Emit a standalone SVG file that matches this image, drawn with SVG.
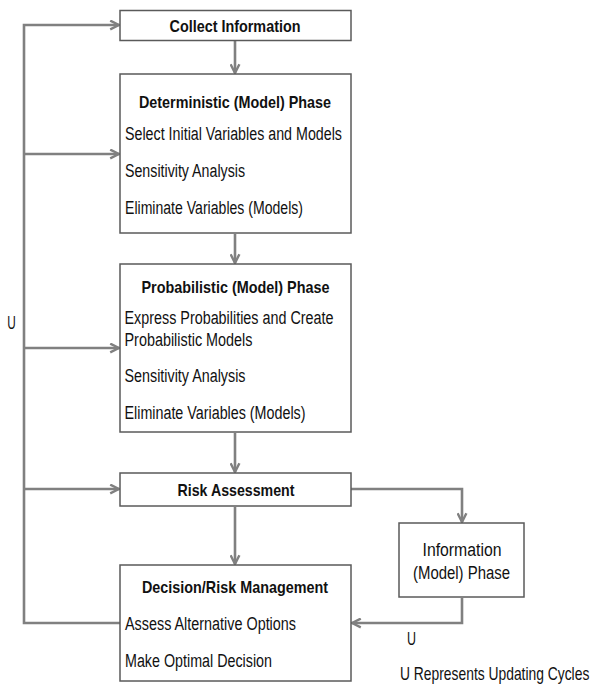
<svg xmlns="http://www.w3.org/2000/svg" width="596" height="688" viewBox="0 0 596 688">
<defs>
<style>
.box{fill:#ffffff;stroke:#5a5a5a;stroke-width:1.5}
.ln{fill:none;stroke:#808080;stroke-width:2.6}
.t{font-family:"Liberation Sans",Arial,sans-serif;font-size:18px;fill:#111}
.b{font-family:"Liberation Sans",Arial,sans-serif;font-size:17px;font-weight:bold;fill:#111;text-anchor:middle}
.c{text-anchor:middle}
</style>
<marker id="ah" viewBox="0 0 10 10" refX="9" refY="5" markerWidth="11" markerHeight="11" markerUnits="userSpaceOnUse" orient="auto">
<path d="M1,1 L9,5 L1,9" fill="none" stroke="#808080" stroke-width="2.2"/>
</marker>
</defs>
<rect width="596" height="688" fill="#ffffff"/>

<g id="connectors">
<path class="ln" d="M120,623 H24 V25 H119" marker-end="url(#ah)"/>
<path class="ln" d="M24,154 H119" marker-end="url(#ah)"/>
<path class="ln" d="M24,348 H119" marker-end="url(#ah)"/>
<path class="ln" d="M24,489 H119" marker-end="url(#ah)"/>
<path class="ln" d="M235,41 V73" marker-end="url(#ah)"/>
<path class="ln" d="M235,234 V263" marker-end="url(#ah)"/>
<path class="ln" d="M235,433 V472" marker-end="url(#ah)"/>
<path class="ln" d="M235,507 V564" marker-end="url(#ah)"/>
<path class="ln" d="M351,489 H462 V522" marker-end="url(#ah)"/>
<path class="ln" d="M462,598 V623 H352" marker-end="url(#ah)"/>
</g>

<g id="collect">
<rect class="box" x="120" y="10.5" width="231" height="30"/>
<text class="b" x="235" y="32" textLength="131" lengthAdjust="spacingAndGlyphs">Collect Information</text>
</g>

<g id="deterministic">
<rect class="box" x="120" y="74" width="231" height="159"/>
<text class="b" x="235" y="108" textLength="192" lengthAdjust="spacingAndGlyphs">Deterministic (Model) Phase</text>
<text class="t" x="125" y="139.5" textLength="217" lengthAdjust="spacingAndGlyphs">Select Initial Variables and Models</text>
<text class="t" x="125" y="177" textLength="120" lengthAdjust="spacingAndGlyphs">Sensitivity Analysis</text>
<text class="t" x="125" y="214" textLength="178" lengthAdjust="spacingAndGlyphs">Eliminate Variables (Models)</text>
</g>

<g id="probabilistic">
<rect class="box" x="120" y="264" width="231" height="168"/>
<text class="b" x="235.5" y="293" textLength="188" lengthAdjust="spacingAndGlyphs">Probabilistic (Model) Phase</text>
<text class="t" x="124.5" y="323.5" textLength="209" lengthAdjust="spacingAndGlyphs">Express Probabilities and Create</text>
<text class="t" x="124.5" y="345.5" textLength="128" lengthAdjust="spacingAndGlyphs">Probabilistic Models</text>
<text class="t" x="124.5" y="382" textLength="121" lengthAdjust="spacingAndGlyphs">Sensitivity Analysis</text>
<text class="t" x="124.5" y="418.5" textLength="181" lengthAdjust="spacingAndGlyphs">Eliminate Variables (Models)</text>
</g>

<g id="risk">
<rect class="box" x="120" y="473" width="231" height="33"/>
<text class="b" x="236" y="495.5" textLength="117" lengthAdjust="spacingAndGlyphs">Risk Assessment</text>
</g>

<g id="decision">
<rect class="box" x="120" y="565" width="231" height="116"/>
<text class="b" x="235" y="593" textLength="186" lengthAdjust="spacingAndGlyphs">Decision/Risk Management</text>
<text class="t" x="125" y="630" textLength="171" lengthAdjust="spacingAndGlyphs">Assess Alternative Options</text>
<text class="t" x="125" y="667" textLength="147" lengthAdjust="spacingAndGlyphs">Make Optimal Decision</text>
</g>

<g id="information">
<rect class="box" x="399" y="523" width="125" height="74"/>
<text class="t c" x="462" y="555.5" textLength="79" lengthAdjust="spacingAndGlyphs">Information</text>
<text class="t c" x="461.5" y="579" textLength="97" lengthAdjust="spacingAndGlyphs">(Model) Phase</text>
</g>

<g id="labels">
<text class="t" x="7.3" y="328.5" textLength="8.5" lengthAdjust="spacingAndGlyphs">U</text>
<text class="t" x="407" y="645" textLength="9" lengthAdjust="spacingAndGlyphs">U</text>
<text class="t" transform="translate(400 680) scale(0.77 1)">U Represents Updating Cycles</text>
</g>
</svg>
